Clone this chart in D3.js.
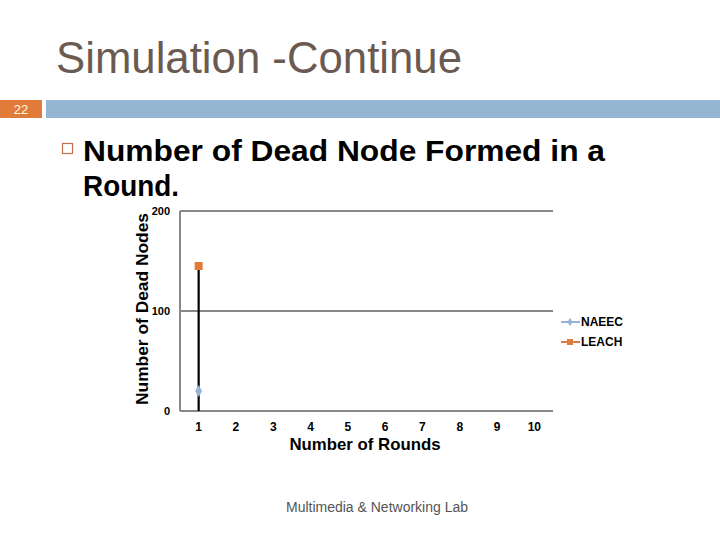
<!DOCTYPE html>
<html><head><meta charset="utf-8">
<script src="https://cdn.jsdelivr.net/npm/d3@7"></script>
<style>body{margin:0;background:#fff}svg{display:block}</style>
</head><body>
<svg id="c" width="720" height="540"></svg>
<script>
const rounds = ["1","2","3","4","5","6","7","8","9","10"];
const naeec = [20];
const leach = [145];
const yTicks = [0, 100, 200];
const seriesNames = ["NAEEC", "LEACH"];
const seriesColors = ["#95B3D7", "#E07B39"];

(function(){
const svg = d3.select("#c");
const F = "Liberation Sans, Arial, sans-serif";
// slide header
svg.append("text").attr("x",56).attr("y",73).attr("font-family",F)
  .attr("font-size",44).attr("fill","#6B5A52").attr("textLength",406).attr("lengthAdjust","spacingAndGlyphs").text("Simulation -Continue");
svg.append("rect").attr("x",0).attr("y",100).attr("width",42).attr("height",18).attr("fill","#E07B39");
svg.append("text").attr("x",21).attr("y",114).attr("text-anchor","middle").attr("font-family","Liberation Sans Narrow, Arial Narrow, sans-serif")
  .attr("font-size",13).attr("fill","#FFF8E0").text("22");
svg.append("rect").attr("x",46).attr("y",100).attr("width",674).attr("height",18).attr("fill","#94B6D2");
// bullet
svg.append("rect").attr("x",62.5).attr("y",143.5).attr("width",10).attr("height",10).attr("fill","none").attr("stroke","#C0704A").attr("stroke-width",1.2);
svg.append("text").attr("x",83).attr("y",161).attr("font-family",F).attr("font-weight","bold")
  .attr("font-size",29).attr("fill","#000").attr("textLength",522).attr("lengthAdjust","spacingAndGlyphs").text("Number of Dead Node Formed in a");
svg.append("text").attr("x",83).attr("y",196).attr("font-family",F).attr("font-weight","bold")
  .attr("font-size",29).attr("fill","#000").attr("textLength",96).attr("lengthAdjust","spacingAndGlyphs").text("Round.");

// chart
const pL = 180, pR = 553, pT = 211, pB = 411;
const x = d3.scaleBand().domain(rounds).range([pL, pR]).paddingInner(0).paddingOuter(0);
const y = d3.scaleLinear().domain([0, 200]).range([pB, pT]);
const cx = r => x(r) + x.bandwidth()/2;

const g = svg.append("g");
g.selectAll("line.grid").data(yTicks).join("line")
  .attr("x1", pL).attr("x2", pR).attr("y1", d=>y(d)).attr("y2", d=>y(d))
  .attr("stroke", "#888").attr("stroke-width", 2);
g.append("line").attr("x1",pL).attr("x2",pL).attr("y1",pT).attr("y2",pB).attr("stroke","#888").attr("stroke-width",2);

const yAxis = d3.axisLeft(y).tickValues(yTicks).tickSize(0).tickPadding(0);
const ya = svg.append("g").attr("transform",`translate(${pL-10},0)`).call(yAxis);
ya.select(".domain").remove();
ya.selectAll("text").attr("font-family",F).attr("font-size",11).attr("font-weight","bold").attr("fill","#000").attr("dy","0.35em");

const xAxis = d3.axisBottom(x).tickSize(0).tickPadding(0);
const xa = svg.append("g").attr("transform",`translate(0,${pB+11})`).call(xAxis);
xa.select(".domain").remove();
xa.selectAll("text").attr("font-family",F).attr("font-size",12).attr("font-weight","bold").attr("fill","#000");

naeec.forEach((v,i)=>{
  g.append("line").attr("x1",cx(rounds[i])).attr("x2",cx(rounds[i]))
    .attr("y1",y(0)).attr("y2",y(leach[i])).attr("stroke","#000").attr("stroke-width",2.2);
});
g.selectAll("path.naeec").data(naeec).join("path")
  .attr("transform",(d,i)=>`translate(${cx(rounds[i])},${y(d)})`)
  .attr("d", d3.symbol(d3.symbolDiamond, 40)).attr("fill", seriesColors[0]);
g.selectAll("rect.leach").data(leach).join("rect")
  .attr("x",(d,i)=>cx(rounds[i])-4).attr("y",d=>y(d)-4).attr("width",8).attr("height",8).attr("fill",seriesColors[1]);

svg.append("text").attr("x",365).attr("y",450).attr("text-anchor","middle").attr("font-family",F)
  .attr("font-size",17).attr("font-weight","bold").attr("fill","#000").attr("textLength",151).attr("lengthAdjust","spacingAndGlyphs").text("Number of Rounds");
svg.append("text").attr("transform","translate(148,309) rotate(-90)").attr("text-anchor","middle").attr("font-family",F)
  .attr("font-size",17).attr("font-weight","bold").attr("fill","#000").attr("textLength",192).attr("lengthAdjust","spacingAndGlyphs").text("Number of Dead Nodes");

const lg = svg.append("g");
seriesNames.forEach((n,i)=>{
  const ly = 322 + i*20;
  lg.append("line").attr("x1",561).attr("x2",580).attr("y1",ly).attr("y2",ly).attr("stroke",seriesColors[i]).attr("stroke-width",2);
  if(i===0) lg.append("path").attr("transform",`translate(570,${ly})`).attr("d",d3.symbol(d3.symbolDiamond,20)).attr("fill",seriesColors[i]);
  else lg.append("rect").attr("x",567).attr("y",ly-3).attr("width",6).attr("height",6).attr("fill",seriesColors[i]);
  lg.append("text").attr("x",581).attr("y",ly+4).attr("font-family",F).attr("font-size",12).attr("font-weight","bold").attr("fill","#000").text(n);
});

svg.append("text").attr("x",377).attr("y",512).attr("text-anchor","middle").attr("font-family",F)
  .attr("font-size",14).attr("fill","#555").attr("textLength",182).attr("lengthAdjust","spacingAndGlyphs").text("Multimedia & Networking Lab");
})();
</script>
</body></html>
